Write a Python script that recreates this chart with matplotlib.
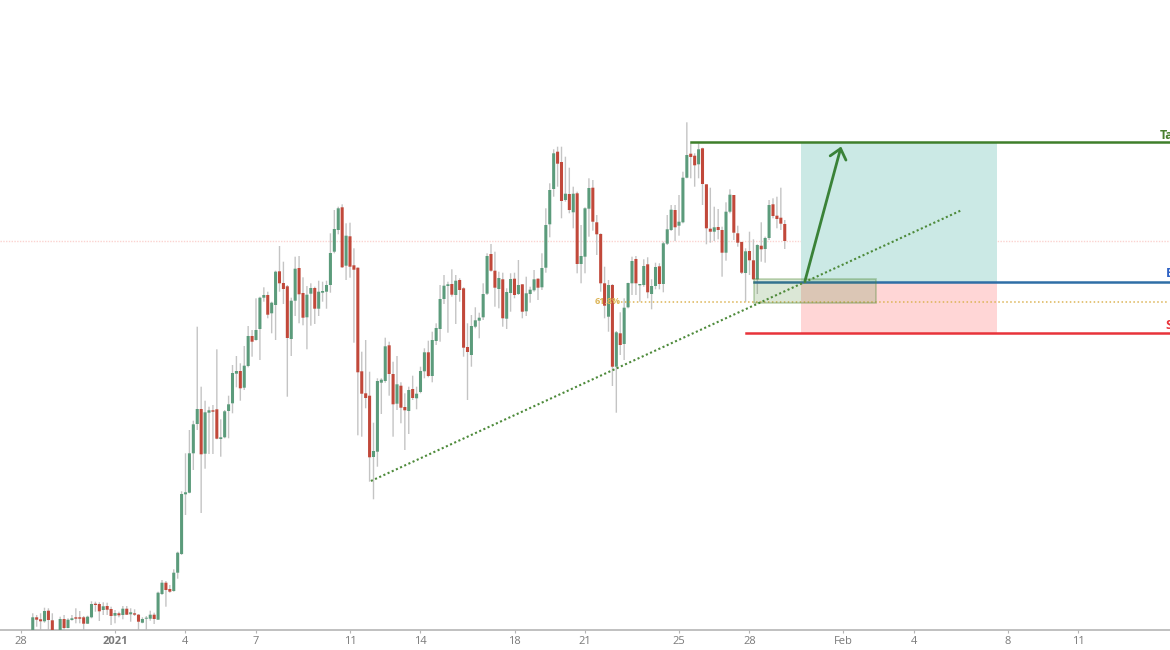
import matplotlib

matplotlib.use('Agg')
import matplotlib.pyplot as plt
from matplotlib.patches import Rectangle
import numpy as np

plt.rcParams['font.family'] = ['Open Sans', 'DejaVu Sans']

# 4h candles, prices in chart units
opens = [18, 32.7, 30.7, 28.7, 39.3, 29.7, 13, 18, 31, 22, 30, 32.7, 32.7, 32.7, 26.3, 32.7, 46.3, 46, 40, 44,
         41, 34.3, 36.7, 35, 41.3, 35.7, 36.7, 35.3, 27.3, 31.3, 31.3, 35.3, 30.3, 56, 67.3, 61, 59, 77.3, 96, 155.7,
         157.3, 196.7, 226, 241, 196.3, 237.3, 239.7, 240.7, 211, 212.7, 239, 246.7, 276.3, 279, 262.3, 284, 314, 310, 321, 352.3,
         355, 336.7, 345, 378.7, 367, 363.7, 311, 349.3, 382, 357, 332.7, 356.3, 362, 341.3, 357.3, 358.3, 365, 398.3, 420, 442.7,
         384.3, 413.7, 384.7, 382.3, 278.7, 256.7, 254.3, 193, 198.3, 267.3, 269, 304.7, 276, 246.3, 264.3, 243, 239, 261, 251.7, 258,
         278.7, 297.7, 274, 309, 321, 351, 364, 366, 355, 370, 361.7, 303, 295, 323.3, 329.3, 332.7, 356.3, 396, 379.3, 361,
         370.7, 331.3, 357, 371.3, 356, 365.7, 338.7, 356, 359.7, 371.3, 362.7, 382.3, 425.7, 461, 498.3, 488, 450, 456, 437.7, 456.7,
         386, 393.3, 441.3, 462.3, 427.7, 416, 366.7, 333.3, 365, 283.3, 316.7, 306, 342.7, 366.7, 391, 364.7, 365, 385.7, 356, 364,
         383.7, 366, 406.3, 420, 440, 424.3, 427.7, 472.3, 496.3, 494.3, 485.7, 501.7, 465.7, 421.3, 418.3, 423, 420, 397.3, 438.3, 455,
         416.7, 408, 377, 399, 389.7, 370.7, 404.3, 401, 412, 445.7, 434.3, 432.3, 426]
highs = [36.7, 35, 36.7, 42.3, 41.7, 36.7, 19.5, 33.3, 35, 31.7, 35, 41.7, 39, 34, 34.3, 48.7, 48.3, 47.7, 47.7, 47.3,
         43.3, 40, 38.3, 44, 44, 41.7, 40.7, 36, 32.7, 34, 39.3, 37.3, 58.3, 70, 69, 65, 80.7, 98.3, 158.7, 196.7,
         220, 229.3, 323.3, 263.3, 249.3, 243.3, 245, 300.7, 230.7, 240, 254.3, 285, 294, 286.7, 304, 324, 320, 351.7, 353.3, 362.7,
         358.3, 348.3, 379.3, 404, 388.3, 365, 352.3, 393.3, 394, 372.7, 364, 366.7, 363.3, 369.3, 368.3, 369.3, 416.7, 440, 443.3, 445.7,
         426.7, 427.3, 401.7, 382.5, 298.3, 310, 278.3, 227.3, 271.7, 271.7, 312.3, 308.3, 288.3, 294, 267.7, 256.7, 263.3, 274.3, 263.3, 283.3,
         301.7, 309.3, 318.3, 326.7, 365, 375, 368.3, 380.7, 375, 371.7, 362.7, 326.7, 335, 342.7, 337.3, 366.7, 396.7, 406, 398.3, 378.3,
         377.3, 361.7, 376.7, 377.3, 390, 365.7, 373.3, 363.3, 380, 371.7, 396.7, 441.7, 466.7, 500.7, 503.3, 503.3, 493.3, 482.3, 463.3, 458.3,
         425, 442.7, 471.7, 470, 435, 416.7, 383.3, 370, 366, 319, 337.7, 351.7, 367.3, 393.3, 394, 366, 390.7, 392.7, 370.7, 387.3,
         386.7, 408.3, 435, 445, 445, 455, 478.3, 527.7, 506.7, 496.7, 506.7, 502.3, 465.7, 462.3, 443.3, 441, 423.3, 447.7, 460.7, 455,
         424.3, 408.3, 401.7, 418.3, 410.7, 405.7, 427.7, 413.3, 450, 451.7, 453.3, 462.3, 430]
lows = [15, 23.3, 20, 27.3, 20, 16, 10, 15, 18, 21.7, 29.3, 26.7, 26.7, 20, 26, 31.7, 38.3, 29, 35, 35,
        25, 26.7, 32.7, 30.7, 35, 28.3, 34, 20, 26.7, 20, 29.3, 26, 30.3, 55, 43.3, 57.3, 58.3, 71.3, 95, 135,
        156.7, 180, 220, 137, 181.3, 196, 196, 210.7, 193.3, 211.7, 211.7, 236.7, 262.7, 249.3, 260, 282.7, 293.3, 309.3, 290, 348.3,
        331.7, 316.7, 310, 358.3, 346, 253.3, 294, 334, 326.7, 324.7, 300.7, 324.3, 326, 334, 348.3, 341.3, 357.3, 396.7, 415.7, 382,
        370, 372.3, 307.3, 214.7, 213.3, 241.7, 168.3, 150.7, 183.3, 236, 267.3, 254.3, 213.3, 240, 226.7, 200, 216, 250, 240.7, 256.7,
        271.7, 272.7, 267.7, 305, 308.3, 346, 317.3, 353.3, 326, 348.3, 293.3, 250, 283.3, 321.7, 311.7, 330, 355, 378.3, 343.3, 341.7,
        323.3, 321, 338.3, 351.7, 355, 331.7, 334, 347.3, 358.3, 350, 360, 377.3, 412.7, 453.3, 463.3, 431.7, 448.3, 436.7, 421.7, 376.7,
        366.7, 376.7, 413.3, 419.3, 395, 358.3, 331.7, 318.3, 264, 237.3, 295, 290, 341.7, 355, 355, 348.3, 363.3, 351.7, 340.7, 360.7,
        360.7, 357.7, 405, 419, 409, 414.3, 426.7, 471.7, 471.7, 463.3, 471.7, 445, 405.7, 407.3, 409, 410.7, 373.3, 389.3, 436.7, 410,
        403.3, 376, 348.3, 375, 370, 356, 388.3, 387.3, 410, 431.7, 421.7, 420, 401]
closes = [32.7, 30.3, 28.7, 39, 30, 18, 19, 31, 22, 30.3, 31.7, 31.3, 31.3, 26.3, 33.3, 46, 45, 38.7, 43.7, 40.3,
          34, 37, 34.7, 41.3, 35.3, 37.7, 35.3, 28.3, 31, 32.3, 35.3, 31, 57.3, 67.3, 60, 58.3, 77.3, 97.3, 156, 157.7,
          196.7, 225.7, 241, 195.7, 237.7, 239.7, 238.3, 211.3, 212.7, 238.7, 245.7, 277, 279, 261.7, 284.3, 314, 308.3, 320, 352.3, 355,
          335.3, 347.3, 378.3, 366.7, 361, 312, 349.3, 381.3, 355.7, 332.3, 355.3, 362, 341.3, 358.3, 359, 365, 397, 421, 441.7, 382.7,
          414.3, 383.3, 380.3, 277.7, 256.3, 252, 192.7, 199, 269, 270.3, 303.7, 276, 245.7, 265.7, 242.3, 239.7, 260, 252, 256.3, 279,
          297.7, 274, 310, 322, 351, 364.3, 365.7, 355.3, 369.3, 360, 302.3, 298, 324, 329.7, 332.3, 356, 394, 379.3, 362.3, 372,
          331.7, 358, 371, 355, 365, 338.3, 356.7, 360.3, 370.7, 362.3, 382, 425, 460, 496.7, 486.3, 449, 456.3, 440, 456.3, 386,
          394, 441.7, 462, 428.3, 415.7, 366.7, 344.3, 365, 283.3, 317.7, 305, 342.3, 367, 389, 366.7, 366, 384, 357.7, 364, 383,
          366, 406.7, 420.7, 440.3, 422.7, 428.3, 472.3, 495, 493, 484.7, 500.7, 466, 421.7, 418.3, 422.7, 420, 397.3, 438.3, 455.3, 417.3,
          407.3, 377.3, 398.7, 389.7, 370.7, 405, 400.7, 412, 445, 434, 431, 426.3, 409]

# days since 28 Dec
tick_days = [0, 4, 7, 10, 14, 17, 21, 24, 28, 31, 35, 38, 42, 45]
tick_labels = ['28', '2021', '4', '7', '11', '14', '18', '21', '25', '28', 'Feb', '4', '8', '11']

target_price = 507.7
entry_price = 367.8
stop_price = 316.7
fib_price = 348.5
resistance_price = 409.5
trend_days = [14.89, 40.04]
trend_prices = [169, 440]

GREEN = '#5b9b7b'
RED = '#c1483a'

fig = plt.figure(figsize=(11.7, 6.5), dpi=100)
ax = fig.add_axes([0, 20 / 650, 1, 630 / 650])
ax.set_xlim(-21 / 23.5, 1149 / 23.5)
ax.set_ylim(20, 650)

days = 0.5 + np.arange(len(opens)) / 6
opens = np.array(opens)
closes = np.array(closes)
colors = [GREEN if c >= o else RED for o, c in zip(opens, closes)]

# pink level goes behind everything
ax.axhline(resistance_price, color='#fbd3d0', lw=1, ls=(0, (1, 1)), zorder=1)

# risk reward zones
ax.add_patch(Rectangle((33.21, entry_price), 41.53 - 33.21, target_price - entry_price,
                       facecolor='#cbe9e5', edgecolor='none', zorder=1))
ax.add_patch(Rectangle((33.21, stop_price), 41.53 - 33.21, entry_price - stop_price,
                       facecolor='#ffd6d6', edgecolor='none', zorder=1))

# candles, no snapping so the wicks stay centred on the bodies
wicks = ax.vlines(days, lows, highs, color='#c4c4c4', lw=1.0, zorder=2)
wicks.set_snap(False)
bars = ax.bar(days, np.abs(closes - opens), bottom=np.minimum(opens, closes), width=0.13,
              color=colors, edgecolor='none', zorder=3)
for b in bars:
    b.set_snap(False)

# levels
ax.plot([28.51, 49], [target_price, target_price], color='#3f7f2b', lw=1.8, zorder=4)
ax.plot([31.19, 49], [entry_price, entry_price], color='#2f6ea6', lw=1.8, zorder=4)
ax.plot([30.85, 49], [stop_price, stop_price], color='#e8333a', lw=1.8, zorder=4)
ax.plot([25.19, 48.81], [fib_price, fib_price], color='#dcb455', lw=1.1, ls=(0, (1, 1.6)), zorder=4)

ax.plot(trend_days, trend_prices, color='#4d8a3a', lw=1.5, ls=(0, (1, 1.2)), zorder=5)

# buy zone box
ax.add_patch(Rectangle((31.19, 346.7), 36.4 - 31.19, 24, facecolor=(0.30, 0.53, 0.20, 0.2),
                       edgecolor=(0.30, 0.53, 0.20, 0.35), lw=1.2, zorder=5))

ax.annotate('', xy=(34.9, 503.5), xytext=(33.36, 369),
            arrowprops=dict(arrowstyle='->,head_length=0.5,head_width=0.42', color='#3a8238', lw=2.0,
                            shrinkA=0, shrinkB=0, mutation_scale=14), zorder=6)

# labels, cut by the right edge like the screenshot
ax.text(48.45, 515, 'Target', color='#4a7f2f', fontsize=9, fontweight='bold', va='center', zorder=6)
ax.text(48.7, 376, 'Entry', color='#2f62c4', fontsize=9, fontweight='bold', va='center', zorder=6)
ax.text(48.7, 325, 'Stop', color='#e8333a', fontsize=9, fontweight='bold', va='center', zorder=6)
ax.text(24.43, fib_price, '61.8%', color='#dcb455', fontsize=6.5, fontweight='bold', va='center', zorder=6)

for s in ['top', 'left', 'right']:
    ax.spines[s].set_visible(False)
ax.spines['bottom'].set_color('#b5b5b5')
ax.spines['bottom'].set_linewidth(1.2)
ax.set_yticks([])
ax.set_xticks(tick_days)
ax.set_xticklabels(tick_labels, fontsize=8, color='#7a7a7a')
ax.tick_params(axis='x', length=2, width=0.8, color='#b5b5b5', pad=2.5)
ax.get_xticklabels()[1].set_fontweight('bold')

fig.savefig('out.png', dpi=100)
